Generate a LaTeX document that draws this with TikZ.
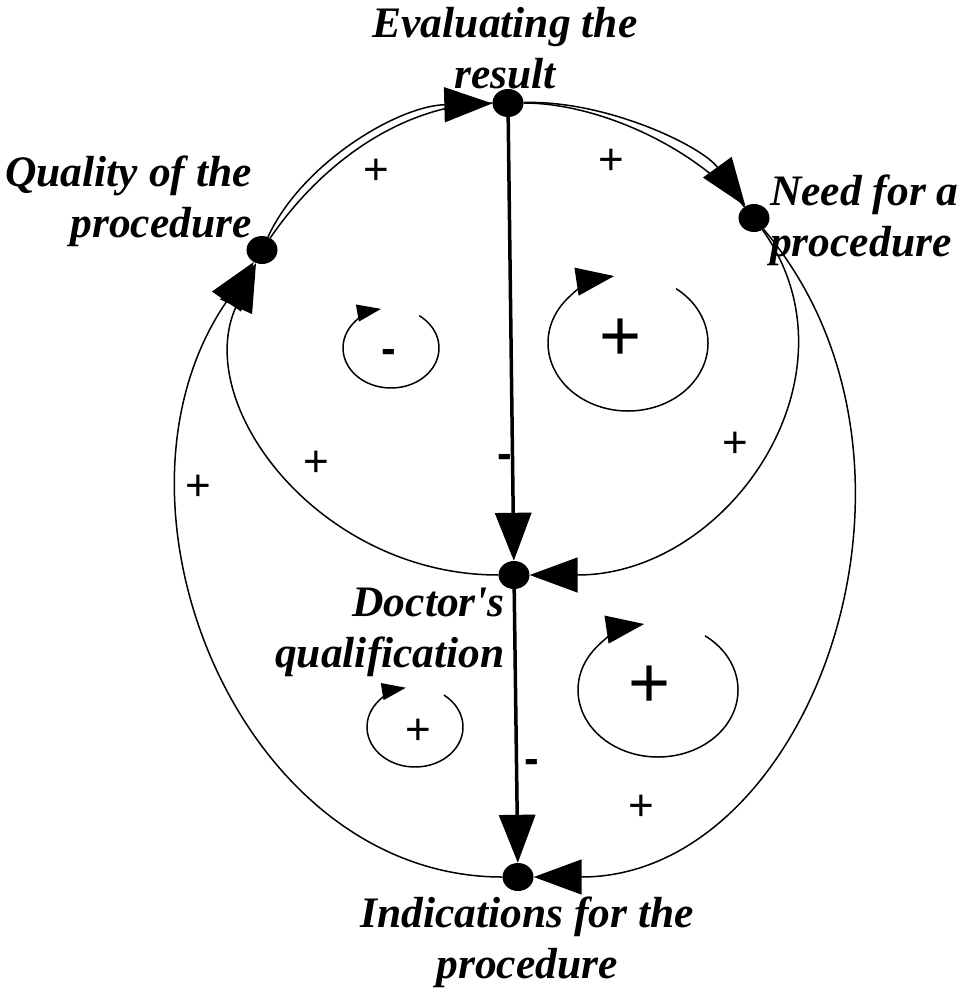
\documentclass[tikz,border=0pt]{standalone}
\usepackage{fontspec}
\setmainfont{Liberation Serif}
\setsansfont{Liberation Sans}
\newfontfamily\titlefont{Liberation Serif}
\usetikzlibrary{arrows.meta,shapes.geometric,positioning}

\begin{document}
\begin{tikzpicture}[
    x=1pt, y=-1pt,
    dot/.style={ellipse, fill=black, minimum width=31pt, minimum height=28pt, inner sep=0pt},
    title/.style={font=\titlefont\fontsize{43.5}{51}\selectfont\bfseries\itshape, inner sep=0pt},
    sign/.style={font=\sffamily\fontsize{44}{50}\selectfont, inner sep=0pt},
    minus/.style={font=\sffamily\bfseries\fontsize{44}{50}\selectfont, inner sep=0pt},
    bigsign/.style={font=\sffamily\fontsize{72}{80}\selectfont, inner sep=0pt},
    flow/.style={-{Triangle[length=48pt,width=36pt]}, line width=3.5pt},
    link/.style={-{Triangle[length=48pt,width=35pt]}, line width=1.5pt},
    plain/.style={line width=1.5pt},
    turn/.style={-{Triangle[length=24pt,width=17pt]}, line width=1.5pt},
    bigturn/.style={-{Triangle[length=38pt,width=28pt]}, line width=1.5pt}
  ]
  \useasboundingbox (0,0) rectangle (963,995);

  \node[dot] (result) at (508,103) {};
  \node[dot] (quality) at (262,250) {};
  \node[dot] (need) at (754,218) {};
  \node[dot] (qualif) at (514,575) {};
  \node[dot] (indic) at (518,877) {};

  \node[title, align=center, anchor=south] (resulttxt) at (505,89) {Evaluating the\\result};
  \node[title, align=right, anchor=south east] (qualitytxt) at (252,247) {Quality of the\\procedure};
  \node[title, align=left, anchor=north west] (needtxt) at (770,175) {Need for a\\procedure};
  \node[title, align=right, anchor=north east] (qualiftxt) at (505,588) {Doctor's\\qualification};
  \node[title, align=center, anchor=north] (indictxt) at (527,897) {Indications for the\\procedure};

  % inner loop
  \draw[link] (quality) .. controls (302,163) and (398,106) .. (result);
  \draw[link] (result) .. controls (606,100) and (702,146) .. (need);
  \draw[link] (need) .. controls (866,375) and (729,575) .. (qualif);
  \draw[link] (qualif) .. controls (320,575) and (191,405) .. (quality);
  % outer loop
  \draw[plain] (quality) .. controls (325,158) and (408,103) .. (result);
  \draw[plain] (result) .. controls (596,103) and (692,145) .. (need);
  \draw[link] (need) .. controls (961,462) and (812,877) .. (indic);
  \draw[link] (indic) .. controls (240,877) and (88,503) .. (quality);
  % negative links
  \draw[flow] (result) -- (qualif);
  \draw[flow] (qualif) -- (indic);

  \node[sign] (s1) at (376,172) {+};
  \node[sign] (s2) at (611,162) {+};
  \node[sign] (s3) at (735,445) {+};
  \node[sign] (s4) at (316,464) {+};
  \node[sign] (s5) at (198,488) {+};
  \node[sign] (s6) at (641,808) {+};
  \node[minus] (m1) at (505,461) {-};
  \node[minus] (m2) at (532,766) {-};

  % loop polarity
  \node[minus] (loopa) at (389,356) {-};
  \node[bigsign] (loopb) at (621,340) {+};
  \node[bigsign] (loopc) at (650,687) {+};
  \node[sign] (loopd) at (418,732) {+};
  \draw[turn] (391,348) ++(-54:48 and 40) arc[start angle=-54, end angle=258, x radius=48, y radius=40];
  \draw[bigturn] (628,343) ++(-53:80 and 68) arc[start angle=-53, end angle=260, x radius=80, y radius=68];
  \draw[bigturn] (658,690) ++(-54:80 and 67) arc[start angle=-54, end angle=260, x radius=80, y radius=67];
  \draw[turn] (415,727) ++(-53:48 and 40) arc[start angle=-53, end angle=259, x radius=48, y radius=40];
\end{tikzpicture}
\end{document}
